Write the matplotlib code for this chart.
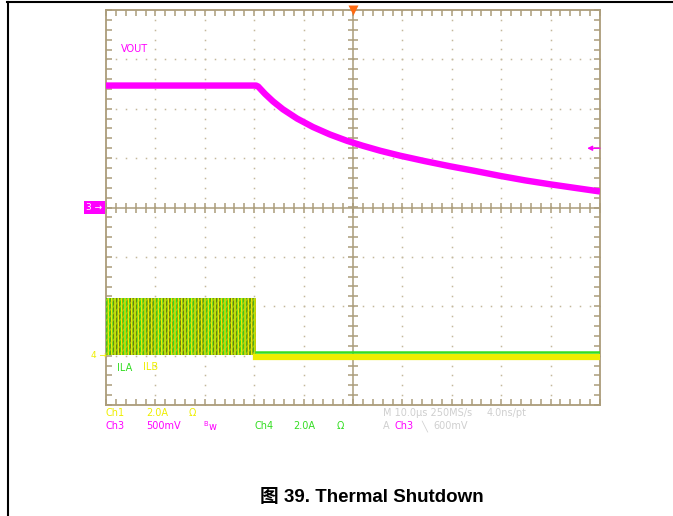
import numpy as np
import matplotlib
matplotlib.use("Agg")
from matplotlib import pyplot as plt
from matplotlib.lines import Line2D
from matplotlib.ticker import MultipleLocator

plt.rcParams['font.family'] = ['Liberation Sans', 'Noto Sans CJK SC', 'DejaVu Sans']

# scope settings
t_per_div = 10.0       # us/div
v_per_div = 0.5        # V/div, ch3 (VOUT)
i_per_div = 2.0        # A/div, ch1/ch4
i_offset_div = -3.0    # ch1/ch4 ground marker, divisions from centre
trig_level = 0.6       # V

# VOUT (ch3)
vout_t = [-50.0, -19.6, -19.2, -17.8, -16.2, -14.2, -11.3, -8.1, -4.7, -1.2, 2.0,
          5.5, 9.5, 14.5, 19.6, 24.5, 29.8, 34.8, 39.9, 45.0, 50.0]
vout_v = [1.235, 1.235, 1.225, 1.150, 1.075, 0.995, 0.900, 0.815, 0.740, 0.675, 0.625,
          0.575, 0.525, 0.470, 0.418, 0.372, 0.320, 0.275, 0.235, 0.198, 0.162]

# inductor currents: switching envelope before shutdown, flat after
sw_t = [-50.0, -19.6]
sw_lo = [0.02, 0.02]
sw_hi = [2.35, 2.35]
off_t = [-19.6, 50.0]
ila_off = [0.14, 0.14]
ilb_off = [-0.04, -0.04]

frame_c = "#ab9c7a"
dot_c = "#c4b89c"
magenta = "#ff00ff"
yellow = "#eeee00"
green = "#33dd22"
grey = "#cfcfcf"

W, H = 673, 516
fig = plt.figure(figsize=(W / 100, H / 100), dpi=100)
x0, x1, y0, y1 = 106, 600, 10, 405
ax = fig.add_axes([x0 / W, 1 - y1 / H, (x1 - x0) / W, (y1 - y0) / H])
ax.set_xlim(-5 * t_per_div, 5 * t_per_div)
ax.set_ylim(-4, 4)

# page border lines
fig.add_artist(Line2D([7 / W, 1], [1 - 2 / H, 1 - 2 / H], color="black", lw=1.5))
fig.add_artist(Line2D([7.5 / W, 7.5 / W], [0, 1 - 2 / H], color="black", lw=1.5))

# frame and ticks
for s in ax.spines.values():
    s.set_color(frame_c)
    s.set_linewidth(1.3)
ax.xaxis.set_major_locator(MultipleLocator(t_per_div))
ax.xaxis.set_minor_locator(MultipleLocator(t_per_div / 5))
ax.yaxis.set_major_locator(MultipleLocator(1))
ax.yaxis.set_minor_locator(MultipleLocator(0.2))
ax.tick_params(which="both", direction="in", top=True, right=True, length=4,
               width=1.1, color=frame_c, labelbottom=False, labelleft=False)

# graticule dots
minor_x = np.arange(-50, 50.01, t_per_div / 5)
minor_y = np.arange(-4, 4.01, 0.2)
for gx in np.arange(-40, 41, t_per_div):
    if gx != 0:
        ax.plot(np.full_like(minor_y, gx), minor_y, ls="none", marker="s",
                ms=1.1, mec="none", color=dot_c, zorder=1)
for gy in range(-3, 4):
    if gy != 0:
        ax.plot(minor_x, np.full_like(minor_x, gy), ls="none", marker="s",
                ms=1.1, mec="none", color=dot_c, zorder=1)

# centre cross with ticks
ax.axhline(0, color=frame_c, lw=1.1, zorder=1)
ax.axvline(0, color=frame_c, lw=1.1, zorder=1)
ax.plot(minor_x, np.zeros_like(minor_x), ls="none", marker="|", ms=7,
        mew=1.1, color=frame_c, zorder=1)
ax.plot(np.zeros_like(minor_y), minor_y, ls="none", marker="_", ms=7,
        mew=1.1, color=frame_c, zorder=1)

# inductor currents
to_div = lambda a: np.asarray(a) / i_per_div + i_offset_div
plt.rcParams['hatch.linewidth'] = 1.0
ax.fill_between(sw_t, to_div(sw_lo), to_div(sw_hi), facecolor="#6e7a10",
                edgecolor=green, hatch="||||||", lw=0, zorder=3)
ax.fill_between(sw_t, to_div(sw_lo), to_div(sw_hi), facecolor="none",
                edgecolor=yellow, hatch="|||||", lw=0, zorder=3)
ax.fill_between(sw_t, to_div(sw_lo), to_div(sw_hi), facecolor="none",
                edgecolor="#c8d818", hatch="/////", lw=0, zorder=3, alpha=0.6)
ax.plot(off_t, to_div(ilb_off), color=yellow, lw=4.5, zorder=3)
ax.plot(off_t, to_div(ila_off), color=green, lw=1.8, zorder=4)

# VOUT
ax.plot(vout_t, np.asarray(vout_v) / v_per_div, color=magenta, lw=4.6,
        solid_capstyle="butt", solid_joinstyle="round", zorder=5)

# labels inside the graticule
fs = 7
ax.text(0.030, 0.901, "VOUT", color=magenta, fontsize=fs, transform=ax.transAxes,
        va="center", family="DejaVu Sans")
ax.text(0.022, 0.094, "ILA", color=green, fontsize=fs, transform=ax.transAxes,
        va="center", family="DejaVu Sans")
ax.text(0.075, 0.096, "ILB", color=yellow, fontsize=fs, transform=ax.transAxes,
        va="center", family="DejaVu Sans")

# channel markers
ax.text(-0.040, 0.5, "3 \u2192", color="white", fontsize=6.5, transform=ax.transAxes,
        va="center", ha="left", family="DejaVu Sans", clip_on=False,
        bbox=dict(boxstyle="square,pad=0.25", fc=magenta, ec="none"))
ax.text(-0.031, (i_offset_div + 4) / 8, "4 \u2192", color=yellow, fontsize=6.5,
        transform=ax.transAxes, va="center", ha="left", family="DejaVu Sans",
        clip_on=False)
ax.plot([0], [4], marker="v", ms=7, color="#ff6a10", mec="none", clip_on=False, zorder=6)
ax.annotate("", xy=(47.4, trig_level / v_per_div), xytext=(50, trig_level / v_per_div),
            arrowprops=dict(arrowstyle="-|>", color=magenta, lw=1, mutation_scale=7,
                            shrinkA=0, shrinkB=0),
            zorder=6)

# readout below the graticule
def readout(x, y, s, c):
    ax.text(x, y, s, color=c, fontsize=fs, transform=ax.transAxes, va="center",
            ha="left", family="DejaVu Sans", clip_on=False)

r1, r2 = -0.020, -0.053
readout(0.0, r1, "Ch1", yellow)
readout(0.081, r1, "2.0A", yellow)
readout(0.168, r1, "\u03a9", yellow)
readout(0.0, r2, "Ch3", magenta)
readout(0.081, r2, "500mV", magenta)
readout(0.196, r2, "$^{\\mathrm{B}}$w", magenta)
readout(0.300, r2, "Ch4", green)
readout(0.379, r2, "2.0A", green)
readout(0.466, r2, "\u03a9", green)
readout(0.561, r1, "M 10.0\u00b5s 250MS/s", grey)
readout(0.771, r1, "4.0ns/pt", grey)
readout(0.561, r2, "A", grey)
readout(0.585, r2, "Ch3", magenta)
readout(0.638, r2, "\u2572", grey)
readout(0.662, r2, "600mV", grey)

fig.text(372 / W, 1 - 498 / H, "\u56fe 39. Thermal Shutdown", fontsize=13.5,
         fontweight="bold", ha="center", va="center")

fig.savefig("out.png", dpi=100)
